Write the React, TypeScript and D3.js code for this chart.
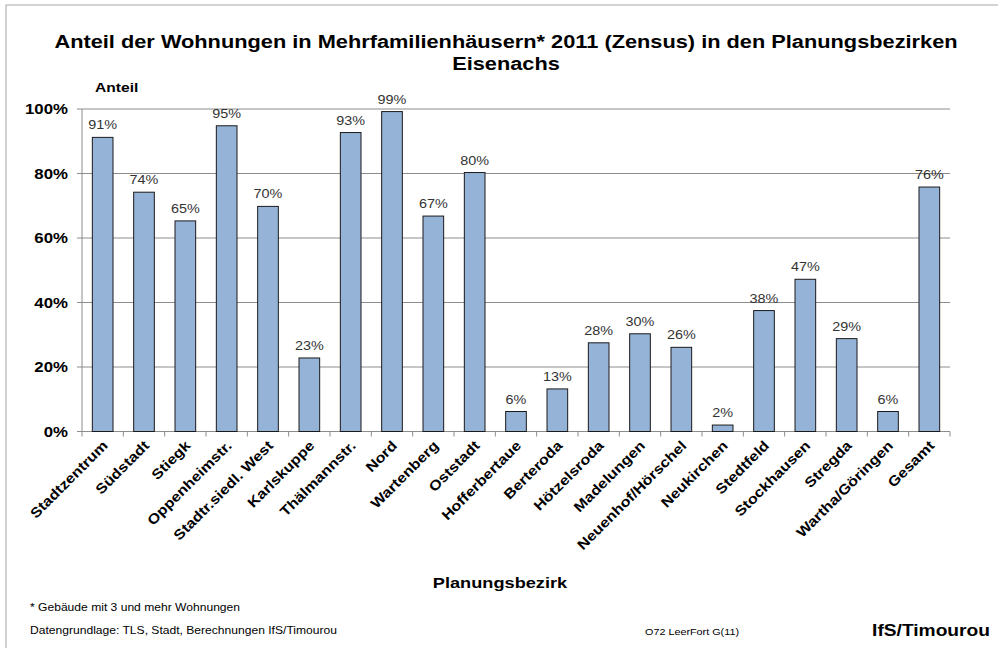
import React from "react";
import * as d3 from "d3";

const categories = ["Stadtzentrum", "Südstadt", "Stiegk", "Oppenheimstr.", "Stadtr.siedl. West", "Karlskuppe", "Thälmannstr.", "Nord", "Wartenberg", "Oststadt", "Hofferbertaue", "Berteroda", "Hötzelsroda", "Madelungen", "Neuenhof/Hörschel", "Neukirchen", "Stedtfeld", "Stockhausen", "Stregda", "Wartha/Göringen", "Gesamt"];
const values = [91.2, 74.2, 65.3, 94.8, 69.8, 22.8, 92.7, 99.2, 66.8, 80.3, 6.2, 13.2, 27.5, 30.3, 26.1, 2.0, 37.5, 47.2, 28.8, 6.2, 75.8];
const yTicks = [0, 20, 40, 60, 80, 100];

const W = 998, H = 648;
const M = { left: 82, right: 950, top: 109, bottom: 431.5 };
const FONT = "'Liberation Sans', Arial, sans-serif";

function T(props: { x: number; y: number; size: number; sx?: number; anchor?: string; bold?: boolean; fill?: string; children: React.ReactNode }) {
  const { x, y, size, sx = 1.2, anchor = "start", bold = false, fill = "#000", children } = props;
  return (
    <text transform={`translate(${x},${y}) scale(${sx},1)`} textAnchor={anchor} fontSize={size} fontWeight={bold ? "bold" : "normal"} fill={fill}>{children}</text>
  );
}

export default function App() {
  const x = d3.scaleBand<string>().domain(categories).range([M.left, M.right]).paddingInner(0.5).paddingOuter(0.25);
  const xb = d3.scaleBand<string>().domain(categories).range([M.left, M.right]);
  const y = d3.scaleLinear().domain([0, 100]).range([M.bottom, M.top]);
  return (
    <svg width={W} height={H} style={{ position: "absolute", left: 0, top: 0, fontFamily: FONT }}>
      <rect x={0} y={0} width={W} height={H} fill="#fff" />
      <rect x={6} y={5} width={W + 10} height={H + 10} fill="none" stroke="#a6a6a6" strokeWidth={1} />
      <T x={506} y={48} size={18} sx={1.21} anchor="middle" bold>Anteil der Wohnungen in Mehrfamilienhäusern* 2011 (Zensus) in den Planungsbezirken</T>
      <T x={506} y={70} size={18} sx={1.21} anchor="middle" bold>Eisenachs</T>
      <T x={95} y={92} size={13} bold>Anteil</T>
      {yTicks.map(t => (
        <g key={t}>
          <line x1={M.left - 5} x2={M.right} y1={y(t)} y2={y(t)} stroke="#8c8c8c" strokeWidth={1} />
          <T x={68} y={y(t) + 5} size={14} anchor="end" bold>{t}%</T>
        </g>
      ))}
      <line x1={M.left} x2={M.left} y1={M.top} y2={M.bottom} stroke="#8c8c8c" />
      {categories.map((c, i) => (
        <line key={"t" + i} x1={xb(c)!} x2={xb(c)!} y1={M.bottom} y2={M.bottom + 5} stroke="#8c8c8c" />
      ))}
      <line x1={M.right} x2={M.right} y1={M.bottom} y2={M.bottom + 5} stroke="#8c8c8c" />
      {categories.map((c, i) => (
        <g key={c}>
          <rect x={x(c)!} y={y(values[i])} width={x.bandwidth()} height={M.bottom - y(values[i])} fill="#95b3d7" stroke="#1a1a1a" strokeWidth={1} />
          <T x={x(c)! + x.bandwidth() / 2} y={y(values[i]) - 8} size={12} anchor="middle" fill="#333">{Math.round(values[i])}%</T>
          <text transform={`translate(${xb(c)! + xb.bandwidth() / 2 + 6},${M.bottom + 15}) rotate(-45) scale(1.15,1)`} textAnchor="end" fontSize={14} fontWeight="bold">{c}</text>
        </g>
      ))}
      <T x={500} y={588} size={14} sx={1.3} anchor="middle" bold>Planungsbezirk</T>
      <T x={30} y={611} size={11} sx={1.1}>* Gebäude mit 3 und mehr Wohnungen</T>
      <T x={30} y={634} size={11} sx={1.1}>Datengrundlage: TLS, Stadt, Berechnungen IfS/Timourou</T>
      <T x={645} y={635} size={9}>O72 LeerFort G(11)</T>
      <T x={990} y={636} size={16} anchor="end" bold>IfS/Timourou</T>
    </svg>
  );
}
